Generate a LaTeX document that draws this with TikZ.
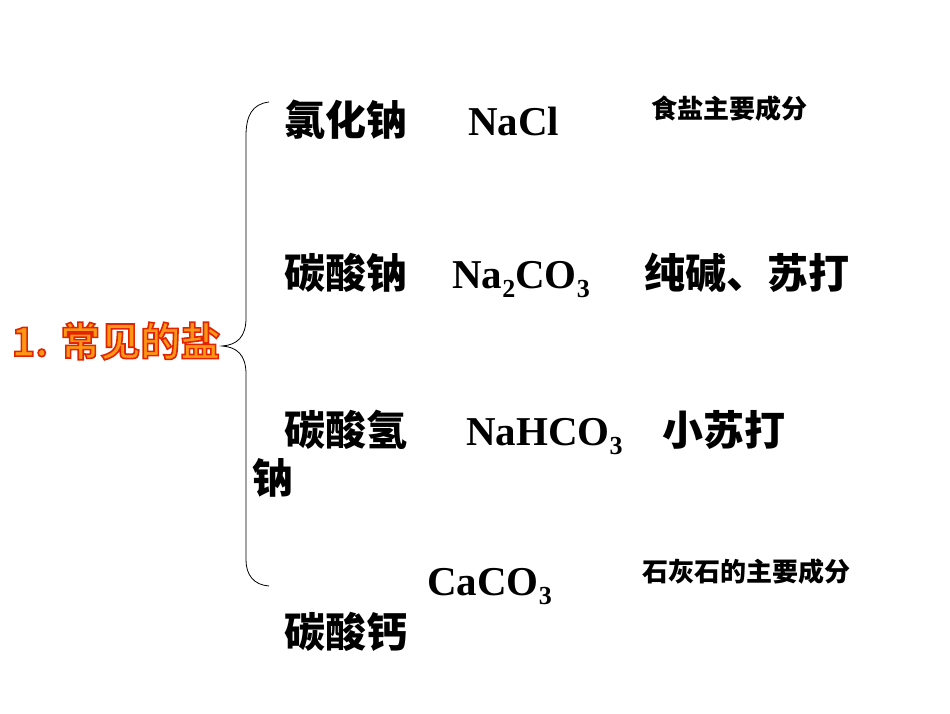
\documentclass[tikz,border=0pt]{standalone}
\usepackage{fontspec}
\setmainfont{Liberation Serif}
\newfontfamily\cjk{Noto Sans CJK SC}
\newfontfamily\titlefontout{Noto Sans CJK SC Bold}[FakeBold=4]
\definecolor{titlefill}{RGB}{255,150,20}
\definecolor{titleedge}{RGB}{225,35,0}
\newcommand{\chemsub}[1]{\raisebox{-9pt}{\fontsize{26}{26}\selectfont #1}}
\newcommand{\titletext}{1. 常见的盐}
\tikzset{
  big/.style={inner sep=0pt, font=\cjk\bfseries\fontsize{41}{46}\selectfont},
  formula/.style={inner sep=0pt, font=\bfseries\fontsize{41}{46}\selectfont},
  note/.style={inner sep=0pt, font=\cjk\bfseries\fontsize{26}{30}\selectfont},
  titleout/.style={inner sep=0pt, font=\titlefontout\fontsize{40}{46}\selectfont},
  brace/.style={draw=black, line width=0.8pt}
}
\begin{document}
\begin{tikzpicture}[x=1pt,y=-1pt]
\useasboundingbox (0,0) rectangle (950,713);
% title: orange letters with a red outline
\node[titleout, text=titlefill] (title) at (116,341) {\pgfsetstrokecolor{titleedge}\titletext};
% brace
\coordinate (btop) at (269,102);
\coordinate (btip) at (222,346);
\coordinate (bbot) at (269,586);
\path[brace] (btop) .. controls (252,104) and (246,116) .. (246,136) -- (246,318)
  .. controls (246,337) and (237,345) .. (btip)
  .. controls (237,347) and (246,355) .. (246,374) -- (246,560)
  .. controls (246,575) and (254,585) .. (bbot);
% row 1
\node[big, anchor=base west] (n1) at (284,135) {氯化钠};
\node[formula, anchor=base west] (f1) at (468,135) {NaCl};
\node[note, anchor=base west] (d1) at (651,118) {食盐主要成分};
% row 2
\node[big, anchor=base west] (n2) at (284,288) {碳酸钠};
\node[formula, anchor=base west] (f2) at (452,288) {Na\chemsub{2}CO\chemsub{3}};
\node[big, anchor=base west] (d2) at (644,288) {纯碱、苏打};
% row 3
\node[big, anchor=base west] (n3) at (284,445) {碳酸氢};
\node[big, anchor=base west] (n3b) at (252,493) {钠};
\node[formula, anchor=base west] (f3) at (466,445) {NaHCO\chemsub{3}};
\node[big, anchor=base west] (d3) at (662,445) {小苏打};
% row 4
\node[formula, anchor=base west] (f4) at (427,595) {CaCO\chemsub{3}};
\node[note, anchor=base west] (d4) at (642,581) {石灰石的主要成分};
\node[big, anchor=base west] (n4) at (284,647) {碳酸钙};
\end{tikzpicture}
\end{document}
